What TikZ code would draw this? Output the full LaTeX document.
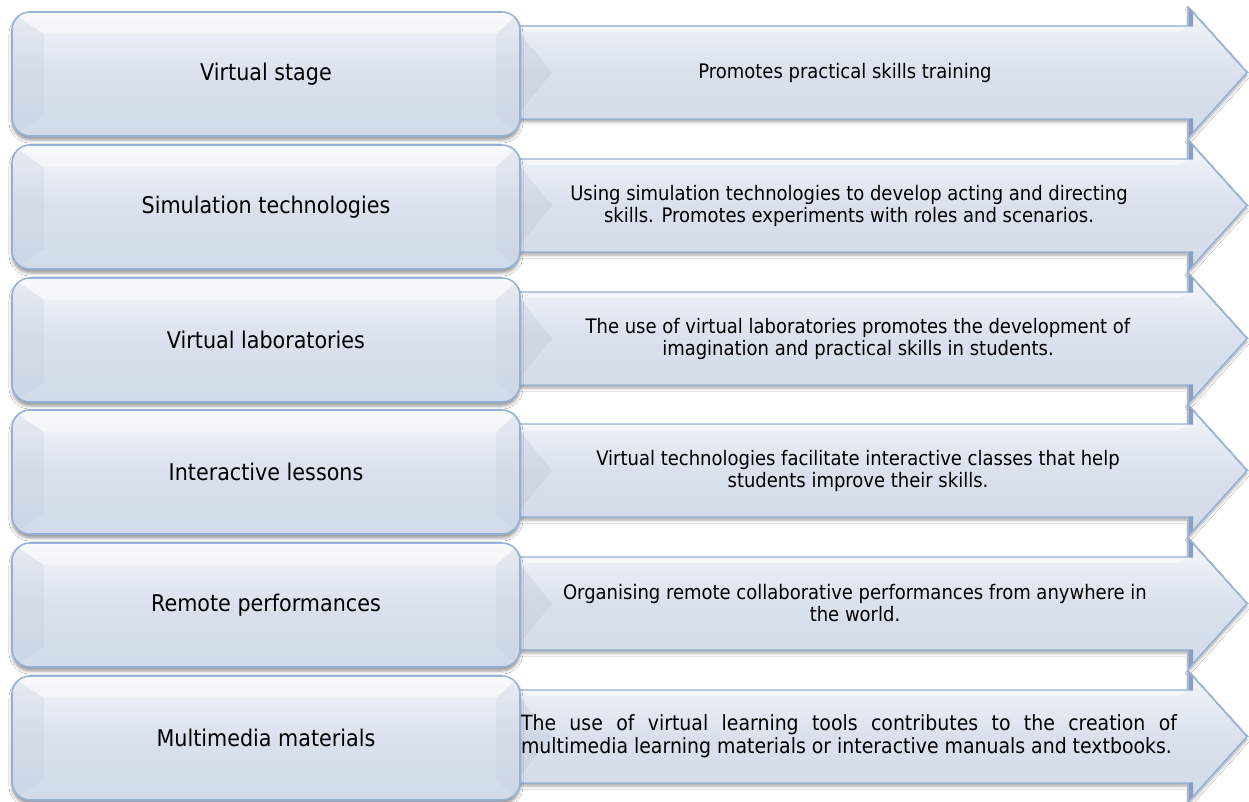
\documentclass[tikz,border=0pt]{standalone}
\usepackage{fontspec}
\setmainfont{DejaVu Sans Condensed}
\usetikzlibrary{shadows.blur}

\definecolor{edge}{HTML}{93B1D6}
\definecolor{face}{HTML}{DAE1ED}
\definecolor{faceTop}{HTML}{F4F7FB}
\definecolor{faceLow}{HTML}{D2DBE9}
\definecolor{bevel}{HTML}{B9C3D2}
\definecolor{headdark}{HTML}{8A9FBF}

\tikzset{
  arrowface/.style={draw=edge, line width=1.4pt, line join=miter,
    top color=faceTop, bottom color=faceLow, middle color=face,
    blur shadow={shadow xshift=0pt, shadow yshift=-3pt, shadow blur radius=3pt, shadow opacity=35}},
  leftbox/.style={draw=edge, line width=1.6pt, rounded corners=18pt,
    minimum width=508pt, minimum height=124pt, inner sep=0pt,
    top color=faceTop, bottom color=faceLow, middle color=face,
    font=\fontsize{23}{27}\selectfont,
    blur shadow={shadow xshift=0pt, shadow yshift=-4pt, shadow blur radius=3pt, shadow opacity=40}},
  righttext/.style={inner sep=0pt, align=center, font=\fontsize{20}{22}\selectfont},
  sidebevel/.style={fill=bevel, opacity=.2},
  topbevel/.style={fill=white, opacity=.4}
}

% one row: #1 index, #2 top edge, #3 label of the box, #4 text in the arrow, #5 x of that text
\newcommand\vrow[5]{%
\begin{scope}[shift={(0,#2)}]
  % arrow behind the box
  \path[arrowface] (505,14) -- (1188,14) -- (1188,-5) -- (1247,60.5)
     -- (1188,126) -- (1188,107) -- (505,107) -- cycle;
  \fill[headdark] (1188.7,-3.5) -- (1193,1.5) -- (1193,14.7) -- (1188.7,14.7) -- cycle;
  \fill[headdark] (1188.7,124.5) -- (1193,119.5) -- (1193,106.3) -- (1188.7,106.3) -- cycle;
  \fill[bevel, opacity=.3] (519,20) -- (552,60.5) -- (519,101) -- cycle;
  \fill[white, opacity=.5] (520,15) -- (1187,15) -- (1180,20) -- (527,20) -- cycle;
  % bevelled box
  \node[leftbox] (L#1) at (266,62) {#3};
  \begin{scope}
    \clip[rounded corners=17pt] (12.8,0.8) rectangle (519.2,123.2);
    \fill[sidebevel] (12,0) -- (44,22) -- (44,104) -- (12,124) -- cycle;
    \fill[sidebevel] (520,0) -- (496,22) -- (496,104) -- (520,124) -- cycle;
    \fill[topbevel] (12,0) -- (520,0) -- (496,22) -- (44,22) -- cycle;
  \end{scope}
  \node[righttext] (R#1) at (#5,60.5) {#4};
\end{scope}}

\begin{document}
\begin{tikzpicture}[x=1pt,y=-1pt]
\fill[white] (0,0) rectangle (1249,802);
\useasboundingbox (0,0) rectangle (1249,802);

\vrow{1}{12}{Virtual stage}{Promotes practical skills training}{845}
\vrow{2}{145}{Simulation technologies}{Using simulation technologies to develop acting and directing\\skills. Promotes experiments with roles and scenarios.}{849}
\vrow{3}{278}{Virtual laboratories}{The use of virtual laboratories promotes the development of\\imagination and practical skills in students.}{858}
\vrow{4}{410}{Interactive lessons}{Virtual technologies facilitate interactive classes that help\\students improve their skills.}{858}
\vrow{5}{543}{Remote performances}{Organising remote collaborative performances from anywhere in\\the world.}{855}
\vrow{6}{676}{Multimedia materials}{\parbox{656pt}{\fontsize{21}{23}\selectfont The use of virtual learning tools contributes to the creation of\linebreak multimedia learning materials or interactive manuals and textbooks.}}{849}
\end{tikzpicture}
\end{document}
